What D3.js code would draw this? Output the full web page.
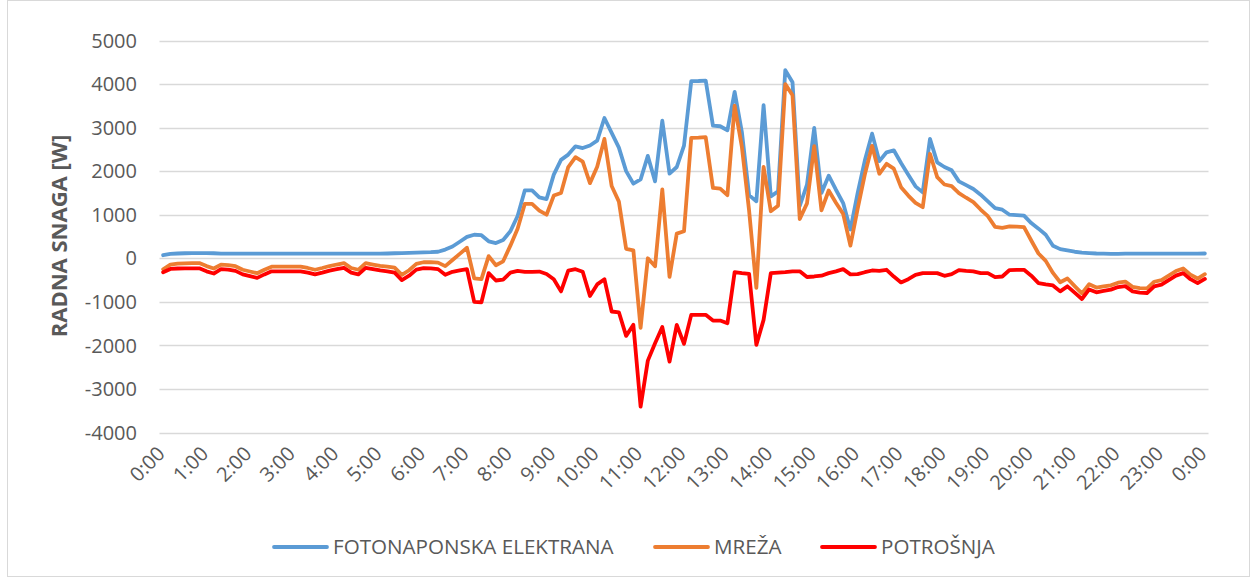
<!DOCTYPE html>
<html>
<head>
<meta charset="utf-8">
<script src="https://cdn.jsdelivr.net/npm/d3@7"></script>
<style>
  html, body { margin: 0; padding: 0; background: #fff; }
  svg { display: block; font-family: "Open Sans", sans-serif; }
</style>
</head>
<body>
<div id="chart"></div>
<script>
// time axis: one point every 10 minutes, 0:00 .. 24:00
const times = d3.range(145).map(i => Math.floor(i / 6) % 24 + ":" + String((i % 6) * 10).padStart(2, "0"));
const hourLabels = ["0:00","1:00","2:00","3:00","4:00","5:00","6:00","7:00","8:00","9:00","10:00","11:00",
  "12:00","13:00","14:00","15:00","16:00","17:00","18:00","19:00","20:00","21:00","22:00","23:00","0:00"];
const yTicks = [5000, 4000, 3000, 2000, 1000, 0, -1000, -2000, -3000, -4000];

// FOTONAPONSKA ELEKTRANA
const fotonaponska = [
  70, 100, 110, 115, 120, 120, 120, 115, 105, 105,
  107, 107, 107, 107, 107, 107, 107, 107, 107, 107,
  107, 107, 107, 107, 107, 107, 107, 107, 107, 107,
  107, 110, 115, 120, 125, 130, 135, 140, 150, 200,
  270, 380, 490, 540, 530, 390, 350, 420, 620, 970,
  1560, 1560, 1400, 1360, 1920, 2260, 2380, 2570, 2530, 2590,
  2700, 3220, 2880, 2540, 2000, 1713, 1810, 2350, 1766, 3160,
  1943, 2096, 2586, 4065, 4070, 4080, 3046, 3031, 2939, 3820,
  2900, 1450, 1307, 3514, 1421, 1536, 4318, 4042, 1200, 1690,
  2993, 1500, 1897, 1574, 1268, 660, 1498, 2249, 2862, 2230,
  2433, 2479, 2188, 1920, 1651, 1513, 2740, 2203, 2096, 2019,
  1766, 1680, 1590, 1460, 1307, 1153, 1115, 1000, 990, 980,
  808, 680, 540, 287, 210, 180, 150, 130, 120, 110,
  105, 100, 100, 105, 105, 105, 105, 105, 105, 105,
  105, 105, 105, 105, 110
];

// MREŽA
const mreza = [
  -252, -145, -125, -115, -110, -110, -180, -235, -145, -155,
  -183, -263, -303, -343, -263, -193, -193, -193, -193, -193,
  -223, -263, -223, -178, -143, -113, -223, -263, -113, -143,
  -173, -190, -215, -380, -275, -130, -91, -90, -99, -180,
  -40, 100, 240, -460, -480, 50, -160, -70, 290, 680,
  1250, 1250, 1095, 1000, 1440, 1500, 2095, 2320, 2220, 1725,
  2100, 2740, 1658, 1300, 218, 184, -1596, 0, -184, 1580,
  -429, 567, 620, 2766, 2771, 2781, 1616, 1601, 1448, 3502,
  2559, 1090, -681, 2100, 1080, 1206, 3998, 3742, 900, 1260,
  2575, 1100, 1556, 1274, 1019, 290, 1134, 1929, 2582, 1940,
  2169, 2059, 1633, 1440, 1271, 1172, 2399, 1862, 1694, 1655,
  1496, 1390, 1290, 1119, 966, 720, 697, 730, 725, 715,
  408, 110, -60, -337, -550, -464, -640, -805, -595, -672,
  -645, -620, -560, -535, -654, -685, -692, -539, -500, -395,
  -293, -235, -375, -465, -365
];

// POTROŠNJA
const potrosnja = [
  -322, -245, -235, -230, -230, -230, -300, -350, -250, -260,
  -290, -370, -410, -450, -370, -300, -300, -300, -300, -300,
  -330, -370, -330, -285, -250, -220, -330, -370, -220, -250,
  -280, -300, -330, -500, -400, -260, -226, -230, -249, -380,
  -310, -280, -250, -1000, -1010, -340, -510, -490, -330, -290,
  -310, -310, -305, -360, -480, -760, -285, -250, -310, -865,
  -600, -480, -1222, -1240, -1782, -1529, -3406, -2350, -1950, -1580,
  -2372, -1529, -1966, -1299, -1299, -1299, -1430, -1430, -1491, -318,
  -341, -360, -1988, -1414, -341, -330, -320, -300, -300, -430,
  -418, -400, -341, -300, -249, -370, -364, -320, -280, -290,
  -264, -420, -555, -480, -380, -341, -341, -341, -402, -364,
  -270, -290, -300, -341, -341, -433, -418, -270, -265, -265,
  -400, -570, -600, -624, -760, -644, -790, -935, -715, -782,
  -750, -720, -660, -640, -759, -790, -797, -644, -605, -500,
  -398, -340, -480, -570, -475
];

const seriesNames = ["FOTONAPONSKA ELEKTRANA", "MREŽA", "POTROŠNJA"];
const seriesColors = ["#5b9bd5", "#ed7d31", "#ff0000"];
const seriesValues = [fotonaponska, mreza, potrosnja];

const W = 1255, H = 578;
const svg = d3.select("#chart").append("svg")
    .attr("width", W)
    .attr("height", H);

// chart area border
svg.append("rect")
    .attr("x", 7.5).attr("y", 0.5)
    .attr("width", 1242).attr("height", 576)
    .attr("fill", "#fff")
    .attr("stroke", "#d9d9d9");

const x = d3.scalePoint()
    .domain(d3.range(times.length))
    .range([159.5, 1208.5])
    .padding(0.5);

const y = d3.scaleLinear()
    .domain([-4000, 5000])
    .range([432.5, 40.5]);

// gridlines
svg.append("g")
    .selectAll("line")
    .data(yTicks)
    .enter()
    .append("line")
    .attr("x1", 159.5).attr("x2", 1208.5)
    .attr("y1", d => Math.round(y(d)) + 0.5)
    .attr("y2", d => Math.round(y(d)) + 0.5)
    .attr("stroke", "#d9d9d9")
    .attr("stroke-width", 1.3);

// y axis labels
svg.append("g")
    .selectAll("text")
    .data(yTicks)
    .enter()
    .append("text")
    .attr("x", 137)
    .attr("y", d => y(d))
    .attr("dy", "0.36em")
    .attr("text-anchor", "end")
    .attr("font-size", 20)
    .attr("fill", "#595959")
    .text(d => d);

// y axis title
svg.append("text")
    .attr("transform", "translate(67,236) rotate(-90)")
    .attr("text-anchor", "middle")
    .attr("font-size", 22)
    .attr("font-weight", "bold")
    .attr("fill", "#595959")
    .text("RADNA SNAGA [W]");

// x axis labels, one per hour, rotated
svg.append("g")
    .selectAll("text")
    .data(hourLabels)
    .enter()
    .append("text")
    .attr("transform", (d, k) => "translate(" + (x(k * 6) + 3) + ",455) rotate(-45)")
    .attr("text-anchor", "end")
    .attr("font-size", 20)
    .attr("fill", "#595959")
    .text(d => d);

// lines
const line = d3.line()
    .x((d, i) => x(i))
    .y(d => y(d));

svg.append("g")
    .selectAll("path")
    .data(seriesValues)
    .enter()
    .append("path")
    .attr("d", line)
    .attr("fill", "none")
    .attr("stroke", (d, k) => seriesColors[k])
    .attr("stroke-width", 3.8)
    .attr("stroke-linejoin", "round")
    .attr("stroke-linecap", "round");

// legend
const legendX = [274, 655, 822];
const legend = svg.append("g")
    .selectAll("g")
    .data(seriesNames)
    .enter()
    .append("g")
    .attr("transform", (d, k) => "translate(" + legendX[k] + ",547)");

legend.append("line")
    .attr("x1", 0).attr("x2", 53)
    .attr("stroke", (d, k) => seriesColors[k])
    .attr("stroke-width", 3.8)
    .attr("stroke-linecap", "round");

legend.append("text")
    .attr("x", 59)
    .attr("dy", "0.36em")
    .attr("font-size", 20.6)
    .attr("fill", "#595959")
    .text(d => d);
</script>
</body>
</html>
